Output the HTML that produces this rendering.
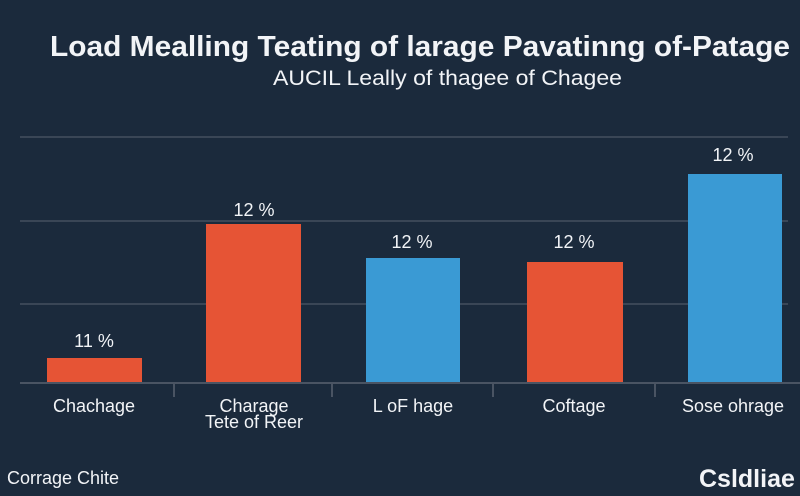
<!DOCTYPE html>
<html><head><meta charset="utf-8"><style>
html,body{margin:0;padding:0;}
body{width:800px;height:496px;background:#1b2a3c;overflow:hidden;position:relative;font-family:"Liberation Sans",sans-serif;color:#f2f4f7;}
</style></head><body>
<svg width="800" height="496" style="position:absolute;left:0;top:0">
<g stroke="#3a4656" stroke-width="2">
<line x1="20" y1="137" x2="788" y2="137"/>
<line x1="20" y1="221" x2="788" y2="221"/>
<line x1="20" y1="304" x2="788" y2="304"/>
</g>
<rect x="47" y="358" width="95" height="25" fill="#e65435"/>
<rect x="206" y="224" width="95" height="159" fill="#e65435"/>
<rect x="366" y="258" width="94" height="125" fill="#3a9ad4"/>
<rect x="527" y="262" width="96" height="121" fill="#e65435"/>
<rect x="688" y="174" width="94" height="209" fill="#3a9ad4"/>
<g stroke="#4a5463" stroke-width="2">
<line x1="20" y1="383" x2="800" y2="383"/>
<line x1="174" y1="383" x2="174" y2="397"/>
<line x1="332" y1="383" x2="332" y2="397"/>
<line x1="493" y1="383" x2="493" y2="397"/>
<line x1="655" y1="383" x2="655" y2="397"/>
</g>
<g font-family="Liberation Sans, sans-serif" fill="#f2f4f7">
<text x="50" y="56" font-size="29" font-weight="bold" textLength="740" lengthAdjust="spacingAndGlyphs">Load Mealling Teating of larage Pavatinng of-Patage</text>
<text x="273" y="85" font-size="21" textLength="349" lengthAdjust="spacingAndGlyphs">AUCIL Leally of thagee of Chagee</text>
</g>
<g font-family="Liberation Sans, sans-serif" fill="#f2f4f7" text-anchor="middle">
<text x="94" y="347" font-size="18">11 %</text>
<text x="254" y="216" font-size="18">12 %</text>
<text x="412" y="248" font-size="18">12 %</text>
<text x="574" y="248" font-size="18">12 %</text>
<text x="733" y="161" font-size="18">12 %</text>
<text x="94" y="412" font-size="18">Chachage</text>
<text x="254" y="412" font-size="18">Charage</text>
<text x="254" y="428" font-size="18">Tete of Reer</text>
<text x="413" y="412" font-size="18">L oF hage</text>
<text x="574" y="412" font-size="18">Coftage</text>
<text x="733" y="412" font-size="18">Sose ohrage</text>
</g>
<text x="7" y="484" font-size="18" fill="#f2f4f7" font-family="Liberation Sans, sans-serif">Corrage Chite</text>
<text x="699" y="487" font-size="25" font-weight="bold" fill="#f2f4f7" font-family="Liberation Sans, sans-serif">Csldliae</text>
</svg>
</body></html>
